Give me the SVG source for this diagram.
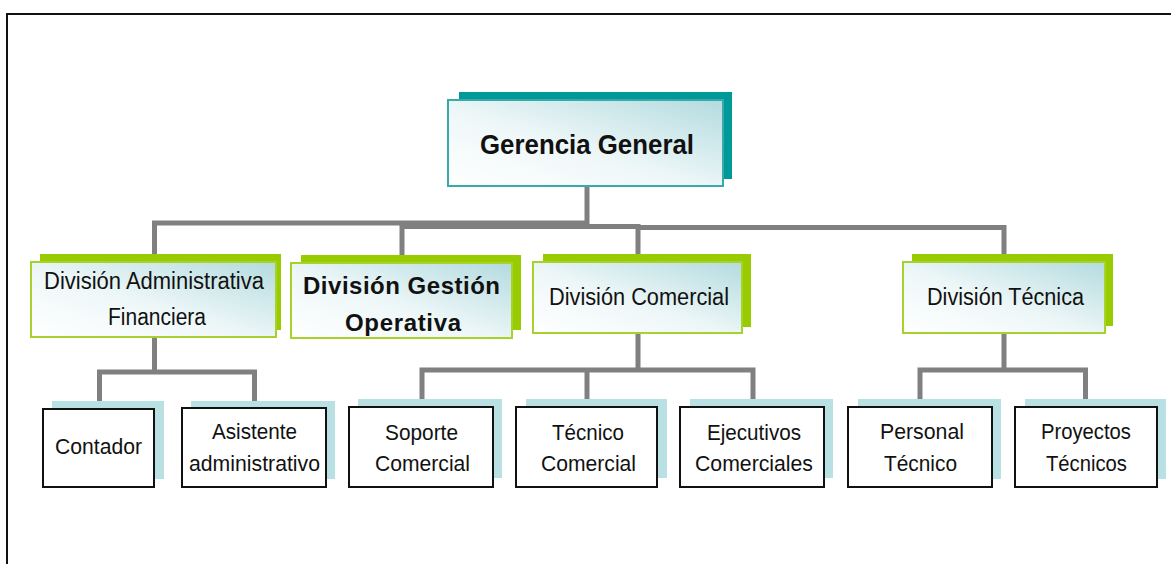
<svg xmlns="http://www.w3.org/2000/svg" width="1171" height="564" viewBox="0 0 1171 564">
  <defs>
    <linearGradient id="soft" x1="0" y1="1" x2="1" y2="0">
      <stop offset="0" stop-color="#ffffff"/>
      <stop offset="0.45" stop-color="#eef7f8"/>
      <stop offset="1" stop-color="#b3dbdf"/>
    </linearGradient>
    <style>
      .frame { fill: none; stroke: #111; stroke-width: 2; }
      .link { fill: none; stroke: #808080; stroke-width: 5; }
      .shadow-top { fill: #009999; }
      .face-top { fill: url(#soft); stroke: #3aa9a9; stroke-width: 2; }
      .shadow-div { fill: #99cc00; }
      .face-div { fill: url(#soft); stroke: #a6d22a; stroke-width: 2; }
      .shadow-leaf { fill: #b9e0e3; }
      .face-leaf { fill: #ffffff; stroke: #111; stroke-width: 2; }
      text { font-family: "Liberation Sans", Arial, sans-serif; fill: #111; text-anchor: middle; }
      .t-top { font-size: 27px; font-weight: bold; }
      .t-div { font-size: 23px; }
      .t-divb { font-size: 24px; font-weight: bold; }
      .t-leaf { font-size: 22.5px; }
    </style>
  </defs>

  <!-- page frame -->
  <rect class="frame" x="7" y="14" width="1200" height="600"/>

  <!-- connectors -->
  <g id="connectors">
    <path class="link" d="M587,186 V223 H154.5 V256"/>
    <path class="link" d="M402,256 V226.5 H638 V256"/>
    <path class="link" d="M638,227.5 H1004 V256"/>
    <path class="link" d="M154.5,337 V372 M99.5,401 V372 H254.5 V401"/>
    <path class="link" d="M638,333 V370 M422,399 V370 H753 V399 M587,370 V399"/>
    <path class="link" d="M1004,333 V370 M920,400 V370 H1085.5 V400"/>
  </g>

  <!-- top level -->
  <g id="gerencia-general">
    <rect class="shadow-top" x="459" y="92" width="273" height="87"/>
    <rect class="face-top" x="448" y="100" width="275" height="86"/>
    <text class="t-top" x="587" y="154" textLength="214" lengthAdjust="spacingAndGlyphs">Gerencia General</text>
  </g>

  <!-- divisions -->
  <g id="division-administrativa">
    <rect class="shadow-div" x="40" y="254" width="241" height="76"/>
    <rect class="face-div" x="31" y="262" width="245" height="75"/>
    <text class="t-div" x="154" y="289" textLength="220" lengthAdjust="spacingAndGlyphs">División Administrativa</text>
    <text class="t-div" x="157" y="325" textLength="98" lengthAdjust="spacingAndGlyphs">Financiera</text>
  </g>

  <g id="division-gestion">
    <rect class="shadow-div" x="301" y="255" width="220" height="75"/>
    <rect class="face-div" x="291" y="263" width="221" height="75"/>
    <text class="t-divb" x="401.5" y="294" textLength="197" lengthAdjust="spacing">División Gestión</text>
    <text class="t-divb" x="403" y="331" textLength="116" lengthAdjust="spacing">Operativa</text>
  </g>

  <g id="division-comercial">
    <rect class="shadow-div" x="543" y="254" width="208" height="73"/>
    <rect class="face-div" x="533" y="262" width="209" height="71"/>
    <text class="t-div" x="639" y="305" textLength="180" lengthAdjust="spacingAndGlyphs">División Comercial</text>
  </g>

  <g id="division-tecnica">
    <rect class="shadow-div" x="912" y="254" width="201" height="72"/>
    <rect class="face-div" x="903" y="262" width="202" height="71"/>
    <text class="t-div" x="1005.5" y="305" textLength="157" lengthAdjust="spacingAndGlyphs">División Técnica</text>
  </g>

  <!-- staff units -->
  <g id="contador">
    <rect class="shadow-leaf" x="52" y="401" width="112" height="78"/>
    <rect class="face-leaf" x="43" y="409" width="111" height="78"/>
    <text class="t-leaf" x="98.5" y="454" textLength="87" lengthAdjust="spacingAndGlyphs">Contador</text>
  </g>

  <g id="asistente-administrativo">
    <rect class="shadow-leaf" x="191" y="401" width="144" height="78"/>
    <rect class="face-leaf" x="182" y="408" width="144" height="79"/>
    <text class="t-leaf" x="254.5" y="439" textLength="85" lengthAdjust="spacingAndGlyphs">Asistente</text>
    <text class="t-leaf" x="254.5" y="471" textLength="131" lengthAdjust="spacingAndGlyphs">administrativo</text>
  </g>

  <g id="soporte-comercial">
    <rect class="shadow-leaf" x="358" y="399" width="144" height="79"/>
    <rect class="face-leaf" x="349" y="407" width="144" height="80"/>
    <text class="t-leaf" x="421.5" y="440" textLength="73" lengthAdjust="spacingAndGlyphs">Soporte</text>
    <text class="t-leaf" x="422.5" y="471" textLength="95" lengthAdjust="spacingAndGlyphs">Comercial</text>
  </g>

  <g id="tecnico-comercial">
    <rect class="shadow-leaf" x="526" y="399" width="141" height="79"/>
    <rect class="face-leaf" x="516" y="407" width="141" height="80"/>
    <text class="t-leaf" x="588" y="440" textLength="72" lengthAdjust="spacingAndGlyphs">Técnico</text>
    <text class="t-leaf" x="588.5" y="471" textLength="95" lengthAdjust="spacingAndGlyphs">Comercial</text>
  </g>

  <g id="ejecutivos-comerciales">
    <rect class="shadow-leaf" x="690" y="399" width="143" height="79"/>
    <rect class="face-leaf" x="680" y="407" width="144" height="80"/>
    <text class="t-leaf" x="754" y="440" textLength="94" lengthAdjust="spacingAndGlyphs">Ejecutivos</text>
    <text class="t-leaf" x="754" y="471" textLength="118" lengthAdjust="spacingAndGlyphs">Comerciales</text>
  </g>

  <g id="personal-tecnico">
    <rect class="shadow-leaf" x="858" y="399" width="143" height="80"/>
    <rect class="face-leaf" x="848" y="407" width="144" height="80"/>
    <text class="t-leaf" x="922" y="439" textLength="84" lengthAdjust="spacingAndGlyphs">Personal</text>
    <text class="t-leaf" x="920.5" y="471" textLength="73" lengthAdjust="spacingAndGlyphs">Técnico</text>
  </g>

  <g id="proyectos-tecnicos">
    <rect class="shadow-leaf" x="1025" y="399" width="141" height="80"/>
    <rect class="face-leaf" x="1015" y="407" width="142" height="80"/>
    <text class="t-leaf" x="1086" y="439" textLength="90" lengthAdjust="spacingAndGlyphs">Proyectos</text>
    <text class="t-leaf" x="1086.5" y="471" textLength="81" lengthAdjust="spacingAndGlyphs">Técnicos</text>
  </g>
</svg>
